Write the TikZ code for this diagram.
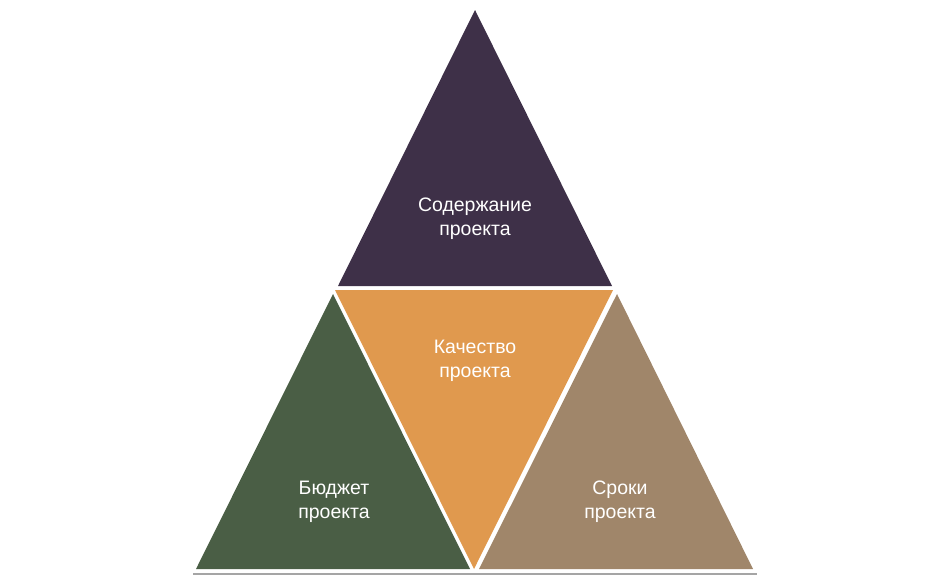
\documentclass[tikz,border=0pt]{standalone}
\usepackage{fontspec}
\setmainfont{Liberation Sans}
\definecolor{cpurple}{RGB}{62,48,72}
\definecolor{corange}{RGB}{224,153,78}
\definecolor{cgreen}{RGB}{74,94,69}
\definecolor{cbrown}{RGB}{160,134,106}
\definecolor{cline}{RGB}{165,165,165}
\begin{document}
\begin{tikzpicture}[x=1pt,y=-1pt,
  lbl/.style={text=white,align=center,font=\fontsize{19.5}{24}\selectfont,inner sep=0pt}]
\useasboundingbox (0,0) rectangle (950,581);
\fill[white] (0,0) rectangle (950,581);
% triangles
\fill[cpurple] (475,10) -- (612,286) -- (338,286) -- cycle;
\fill[corange] (335,290) -- (613,290) -- (474,569) -- cycle;
\fill[cgreen] (333,294) -- (470,569) -- (196,569) -- cycle;
\fill[cbrown] (617,294) -- (753,569) -- (479,569) -- cycle;
% base line
\coordinate (bl) at (193,574);
\coordinate (br) at (757,574);
\draw[cline,line width=1.5pt] (bl) -- (br);
% labels
\node[lbl] (scope) at (475,219) {Содержание\\проекта};
\node[lbl] (quality) at (475,361) {Качество\\проекта};
\node[lbl] (budget) at (334,502) {Бюджет\\проекта};
\node[lbl] (time) at (620,502) {Сроки\\проекта};
\end{tikzpicture}
\end{document}
